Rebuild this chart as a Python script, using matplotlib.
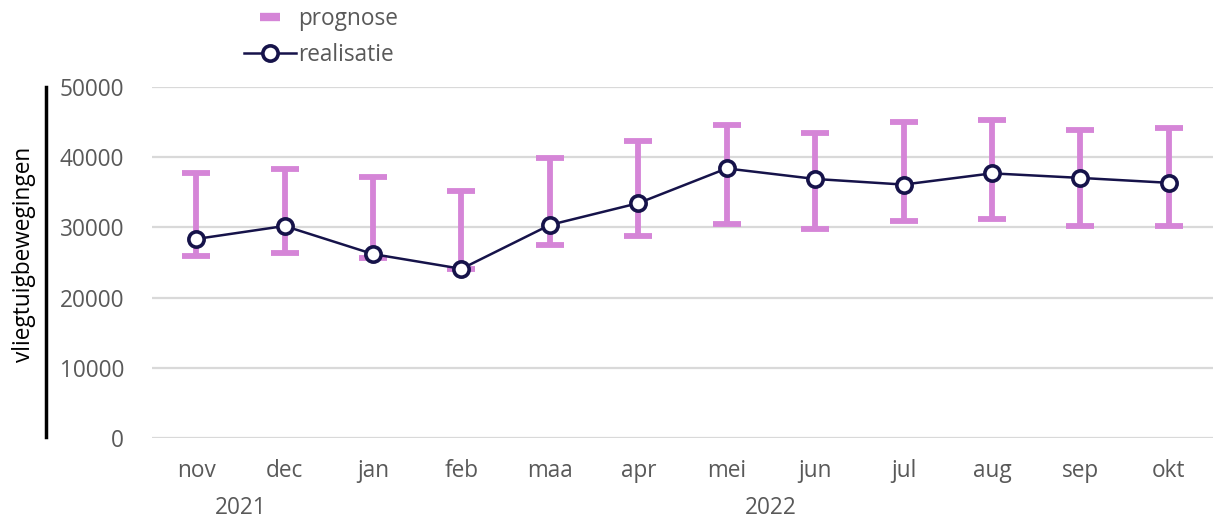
import numpy as np
import matplotlib

matplotlib.use("Agg")
import matplotlib.pyplot as plt
from matplotlib.lines import Line2D

plt.rcParams["font.family"] = ["Open Sans", "DejaVu Sans"]

months = ["nov", "dec", "jan", "feb", "maa", "apr", "mei", "jun", "jul", "aug", "sep", "okt"]
years = ["2021", "2022"]
year_span = [(0, 1), (2, 11)]

prog_low = [25900, 26350, 25650, 24100, 27450, 28800, 30500, 29800, 30900, 31200, 30200, 30200]
prog_high = [37750, 38250, 37200, 35200, 39900, 42250, 44600, 43400, 45000, 45250, 43900, 44100]
realisatie = [28350, 30200, 26200, 24100, 30350, 33450, 38400, 36900, 36100, 37700, 37050, 36350]

PINK = "#d585d7"
NAVY = "#16134a"
GREY = "#595959"
FS = 16.3

fig = plt.figure(figsize=(12.13, 5.2), dpi=100)
ax = fig.add_axes([0.1253, 0.1577, 0.8747, 0.675])

x = np.arange(len(months))
low = np.array(prog_low)
high = np.array(prog_high)
mid = (low + high) / 2
ax.errorbar(x, mid, yerr=[mid - low, high - mid], fmt="none", ecolor=PINK,
            elinewidth=4.2, capsize=10, capthick=4.2, zorder=3)
ax.plot(x, realisatie, color=NAVY, lw=1.8, marker="o", ms=11, mfc="white",
        mec=NAVY, mew=2.6, zorder=4)

ax.set_xlim(-0.5, len(months) - 0.5)
ax.set_ylim(0, 50000)
ax.set_yticks(range(0, 50001, 10000))
ax.grid(axis="y", color="#d9d9d9", lw=1.6)
ax.set_axisbelow(True)
for s in ax.spines.values():
    s.set_visible(False)
ax.tick_params(length=0, labelsize=FS, labelcolor=GREY)
ax.tick_params(axis="y", pad=20)
ax.tick_params(axis="x", pad=15)
ax.set_xticks(x)
ax.set_xticklabels(months)

for yr, (a, b) in zip(years, year_span):
    ax.text((a + b) / 2, -0.2, yr, transform=ax.get_xaxis_transform(),
            ha="center", va="center", fontsize=FS, color=GREY)

fig.text(0.02, 0.51, "vliegtuigbewegingen", rotation=90, ha="center",
         va="center", fontsize=FS, color="black")
fig.add_artist(Line2D([0.038, 0.038], [0.16, 0.832], color="black", lw=2.5))

handles = [
    Line2D([], [], ls="none", marker="_", ms=15, mew=6, color=PINK),
    Line2D([], [], color=NAVY, lw=1.8, marker="o", ms=11, mfc="white",
           mec=NAVY, mew=2.6),
]
leg = fig.legend(handles, ["prognose", "realisatie"], loc="upper left",
                 bbox_to_anchor=(0.184, 1.025), frameon=False, fontsize=FS,
                 handlelength=2.3, handletextpad=0.1, labelspacing=0.5)
for t in leg.get_texts():
    t.set_color(GREY)

fig.savefig("out.png", dpi=100, facecolor="white")
